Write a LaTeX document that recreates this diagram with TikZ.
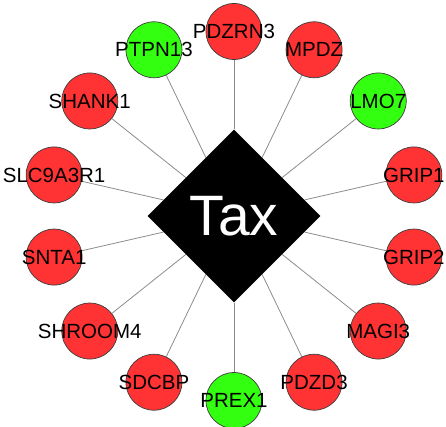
\documentclass[tikz,border=0pt]{standalone}
\usepackage{fontspec}
\setmainfont{Liberation Sans}
\usetikzlibrary{shapes.geometric,backgrounds}
\definecolor{nodered}{RGB}{255,51,51}
\definecolor{nodegreen}{RGB}{51,255,17}
\definecolor{edgegray}{RGB}{140,140,140}
\definecolor{ringgray}{RGB}{60,60,60}
\tikzset{
  gene/.style={circle,draw=ringgray,line width=0.7pt,minimum size=56pt,inner sep=0pt},
  genetext/.style={font=\fontsize{20.5}{20.5}\selectfont,text=black,inner sep=0pt},
  hub/.style={diamond,aspect=1,fill=black,minimum size=173pt,inner sep=0pt,text=white,font=\fontsize{57}{57}\selectfont},
  link/.style={draw=edgegray,line width=0.8pt}
}
\begin{document}
\begin{tikzpicture}[x=1pt,y=1pt]
\useasboundingbox (0,0) rectangle (446,426);
\clip (0,0) rectangle (446,426);
\node[hub] (tax) at (234,210) {Tax};
\foreach \name/\col [count=\k from 0] in {PDZRN3/nodered,MPDZ/nodered,LMO7/nodegreen,GRIP1/nodered,GRIP2/nodered,MAGI3/nodered,PDZD3/nodered,PREX1/nodegreen,SDCBP/nodered,SHROOM4/nodered,SNTA1/nodered,SLC9A3R1/nodered,SHANK1/nodered,PTPN13/nodegreen}{
  \pgfmathsetmacro{\ang}{90-\k*360/14}
  \node[gene,fill=\col,label={[genetext]center:\name}] (\name) at ({234+184.5*cos(\ang)},{210+184.5*sin(\ang)}) {};
  \begin{scope}[on background layer]
    \draw[link] (tax) -- (\name);
  \end{scope}
}
\end{tikzpicture}
\end{document}
